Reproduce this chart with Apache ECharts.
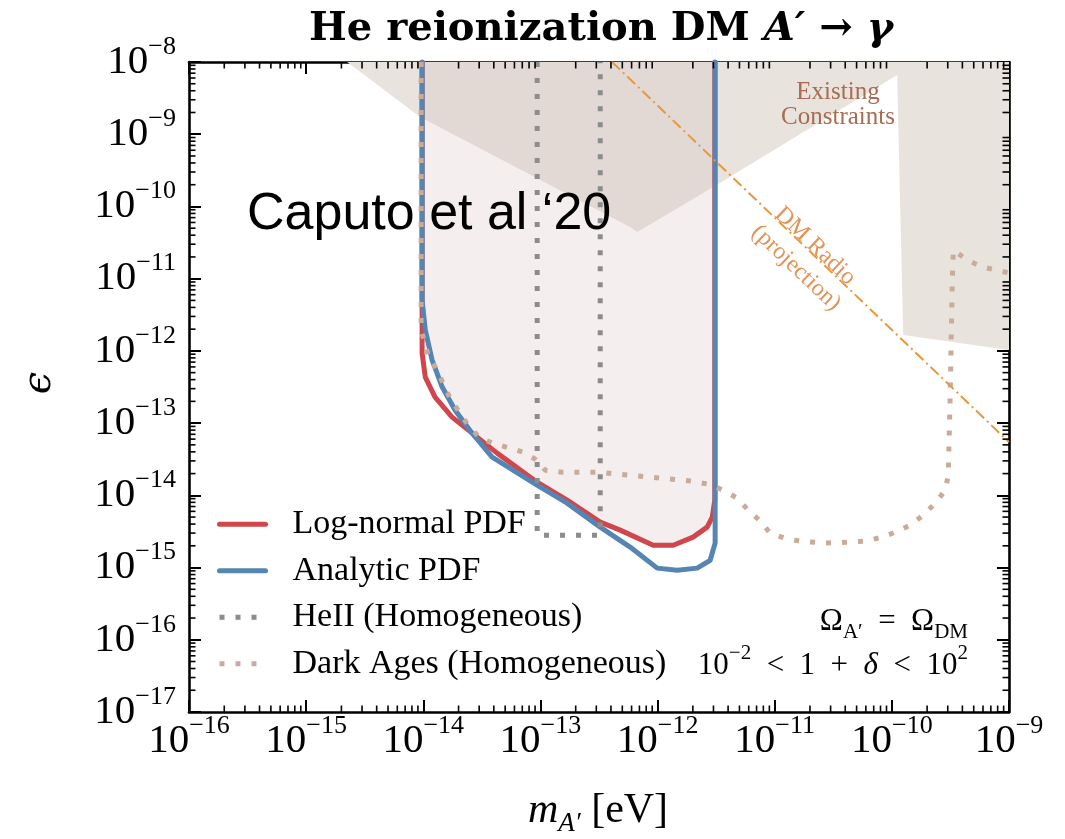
<!DOCTYPE html>
<html><head><meta charset="utf-8">
<script src="https://cdn.jsdelivr.net/npm/echarts@6/dist/echarts.min.js"></script>
<style>html,body{margin:0;padding:0;background:#fff;overflow:hidden}#c{width:1065px;height:839px}</style>
</head><body><div id="c"></div>
<script>
// ---------- tick labels ----------
const xTickPowers = [-16,-15,-14,-13,-12,-11,-10,-9];
const xTickExponents = ['\u221216','\u221215','\u221214','\u221213','\u221212','\u221211','\u221210','\u22129'];
const yTickPowers = [-17,-16,-15,-14,-13,-12,-11,-10,-9,-8];
const yTickExponents = ['\u221217','\u221216','\u221215','\u221214','\u221213','\u221212','\u221211','\u221210','\u22129','\u22128'];
const minorFactors = [2,3,4,5,6,7,8,9];

// ---------- data: [m_A' (eV), epsilon] ----------
const logNormal = [
  [9.77e-15,1e-8],[9.77e-15,9.33e-13],[1.04e-14,4.34e-13],[1.26e-14,2.29e-13],[1.76e-14,1.21e-13],
  [2.61e-14,7.26e-14],[4.27e-14,3.84e-14],[9.37e-14,1.52e-14],[1.69e-13,8.59e-15],[3.24e-13,4.26e-15],
  [4.80e-13,3.30e-15],[9.17e-13,2.04e-15],[1.36e-12,2.04e-15],[2.01e-12,2.64e-15],[2.65e-12,3.63e-15],
  [2.93e-12,4.99e-15],[3.08e-12,8.59e-15],[3.08e-12,1e-8]
];
const analytic = [
  [9.77e-15,1e-8],[9.77e-15,5.06e-12],[1.04e-14,1.94e-12],[1.19e-14,7.46e-13],[1.45e-14,3.16e-13],
  [1.87e-14,1.51e-13],[2.61e-14,7.26e-14],[3.87e-14,3.38e-14],[9.37e-14,1.38e-14],[1.69e-13,7.80e-15],
  [3.24e-13,3.63e-15],[5.83e-13,1.92e-15],[9.93e-13,9.82e-16],[1.47e-12,9.20e-16],[2.18e-12,9.82e-16],
  [2.81e-12,1.26e-15],[3.10e-12,2.18e-15],[3.10e-12,1e-8]
];
const heII = [[9.38e-14,1e-8],[9.38e-14,2.81e-15],[3.24e-13,2.81e-15],[3.24e-13,1e-8]];
const darkAges = [
  [9.58e-15,1e-8],[9.58e-15,1.94e-12],[1.10e-14,8.75e-13],[1.31e-14,5.42e-13],[1.69e-14,2.22e-13],
  [2.41e-14,9.38e-14],[3.05e-14,6.19e-14],[3.95e-14,5.28e-14],[7.12e-14,3.96e-14],[9.01e-14,3.17e-14],
  [1.10e-13,2.23e-14],[1.53e-13,2.09e-14],[3.05e-13,2.09e-14],[5.50e-13,1.91e-14],[1.05e-12,1.73e-14],
  [1.97e-12,1.57e-14],[2.70e-12,1.43e-14],[3.63e-12,1.18e-14],[4.79e-12,9.14e-15],[5.94e-12,6.24e-15],
  [7.52e-12,4.40e-15],[9.16e-12,2.99e-15],[1.23e-11,2.55e-15],[1.65e-11,2.32e-15],[2.70e-11,2.18e-15],
  [4.25e-11,2.25e-15],[5.93e-11,2.32e-15],[8.28e-11,2.64e-15],[1.07e-10,3.09e-15],[1.44e-10,3.87e-15],
  [1.85e-10,5.32e-15],[2.35e-10,7.80e-15],[2.86e-10,1.18e-14],[3.03e-10,1.91e-14],[3.15e-10,2.61e-13],
  [3.28e-10,9.57e-12],[3.35e-10,2.49e-11],[4.40e-10,1.81e-11],[5.92e-10,1.45e-11],[1e-9,1.20e-11]
];
const dmRadio = [[4.09e-13,1e-8],[1e-9,5.46e-14]];
const existingConstraints = [
  [2.24e-15,1e-8],[9.39e-15,1.73e-9],[5.83e-13,5.19e-11],[6.70e-13,4.42e-11],[2.99e-12,1.86e-10],
  [1.11e-10,6.61e-9],[1.25e-10,1.66e-12],[1e-9,1.03e-12],[1e-9,1e-8]
];
// excluded region = inside both PDF curves
const excludedRegion = analytic.slice(0,7).concat(logNormal.slice(6));

// ---------- styles ----------
const SERIF = "'Liberation Serif', 'DejaVu Serif', serif";
const RED = '#d0464d', BLUE = '#5585b2', GRAY = '#8c8c8c', TAN = '#c9ab9b', ORANGE = '#e8973e';

function polygonRenderer(points, fill) {
  return function (params, api) {
    return { type: 'polygon', shape: { points: points.map(p => api.coord(p)) }, style: { fill: fill } };
  };
}
function minorTickRenderer(params, api) {
  const children = [];
  const yb = api.coord([1e-12, 1e-17])[1], yt = api.coord([1e-12, 1e-8])[1];
  const xl = api.coord([1e-16, 1e-12])[0], xr = api.coord([1e-9, 1e-12])[0];
  const L = 6.5, st = { stroke: '#000', lineWidth: 1.6 };
  xTickPowers.slice(0, -1).forEach(d => minorFactors.forEach(k => {
    const x = api.coord([k * Math.pow(10, d), 1e-12])[0];
    children.push({ type: 'line', shape: { x1: x, y1: yb, x2: x, y2: yb - L }, style: st });
    children.push({ type: 'line', shape: { x1: x, y1: yt, x2: x, y2: yt + L }, style: st });
  }));
  yTickPowers.slice(0, -1).forEach(d => minorFactors.forEach(k => {
    const y = api.coord([1e-12, k * Math.pow(10, d)])[1];
    children.push({ type: 'line', shape: { x1: xl, y1: y, x2: xl + L, y2: y }, style: st });
    children.push({ type: 'line', shape: { x1: xr, y1: y, x2: xr - L, y2: y }, style: st });
  }));
  return { type: 'group', children: children };
}

const supRich = {
  b: { fontFamily: SERIF, fontSize: 41, lineHeight: 56, color: '#000' },
  s: { fontFamily: SERIF, fontSize: 26, lineHeight: 26, verticalAlign: 'top', color: '#000' }
};
const axisLineStyle = { show: true, onZero: false, lineStyle: { color: '#000', width: 2.6 } };
const axisTickStyle = { show: true, inside: true, length: 12, lineStyle: { color: '#000', width: 2 } };

function tickLabel(v, powers, labels) {
  const i = powers.indexOf(Math.round(Math.log10(v)));
  return i < 0 ? '' : '{b|10}{s|' + labels[i] + '}';
}
function xAxisCfg(pos, showLabel) {
  return {
    type: 'log', logBase: 10, min: 1e-16, max: 1e-9, position: pos,
    splitLine: { show: false }, axisLine: axisLineStyle, axisTick: axisTickStyle,
    axisLabel: showLabel ? {
      show: true, margin: 1, showMinLabel: true, showMaxLabel: true, hideOverlap: false,
      formatter: v => tickLabel(v, xTickPowers, xTickExponents), rich: supRich
    } : { show: false }
  };
}
function yAxisCfg(pos, showLabel) {
  return {
    type: 'log', logBase: 10, min: 1e-17, max: 1e-8, position: pos,
    splitLine: { show: false }, axisLine: axisLineStyle, axisTick: axisTickStyle,
    axisLabel: showLabel ? {
      show: true, margin: 13, showMinLabel: true, showMaxLabel: true, hideOverlap: false,
      formatter: v => tickLabel(v, yTickPowers, yTickExponents), rich: supRich
    } : { show: false }
  };
}

function txt(o) { // graphic text helper
  const st = Object.assign({ fill: '#000', textFill: '#000' }, o.style);
  st.textAlign = st.align; st.textVerticalAlign = st.verticalAlign;
  return { type: 'text', x: o.x, y: o.y, rotation: o.rotation || 0, silent: true, z: 100, style: st };
}

const chart = echarts.init(document.getElementById('c'), null, { renderer: 'canvas' });
chart.setOption({
  animation: false,
  backgroundColor: '#fff',
  grid: { left: 189, right: 56, top: 62, bottom: 127, containLabel: false, outerBoundsMode: 'none' },
  xAxis: [xAxisCfg('bottom', true), xAxisCfg('top', false)],
  yAxis: [yAxisCfg('left', true), yAxisCfg('right', false)],
  legend: {
    data: ['Log-normal PDF', 'Analytic PDF', 'HeII (Homogeneous)', 'Dark Ages (Homogeneous)'],
    orient: 'vertical', left: 217, top: 501, padding: 0, itemWidth: 46, itemHeight: 14, itemGap: 0,
    selectedMode: false,
    itemStyle: { opacity: 0 },
    lineStyle: { width: 5 },
    textStyle: { fontFamily: SERIF, fontSize: 34, lineHeight: 46.5, color: '#000', padding: [0, 0, 0, 22] }
  },
  series: [
    { type: 'custom', renderItem: polygonRenderer(existingConstraints, '#e8e4dd'), data: [[1e-12, 1e-12]], silent: true, z: 1 },
    { type: 'custom', renderItem: polygonRenderer(excludedRegion, 'rgba(215,185,185,0.24)'), data: [[1e-12, 1e-12]], silent: true, z: 1 },
    { name: 'Log-normal PDF', type: 'line', data: logNormal, symbol: 'none', z: 3,
      lineStyle: { color: RED, width: 5, join: 'round', cap: 'round' }, itemStyle: { color: RED } },
    { name: 'Analytic PDF', type: 'line', data: analytic, symbol: 'none', z: 4,
      lineStyle: { color: BLUE, width: 5, join: 'round', cap: 'round' }, itemStyle: { color: BLUE } },
    { name: 'HeII (Homogeneous)', type: 'line', data: heII, symbol: 'none', z: 5,
      lineStyle: { color: GRAY, width: 5, type: [5, 11], cap: 'butt' }, itemStyle: { color: GRAY } },
    { name: 'Dark Ages (Homogeneous)', type: 'line', data: darkAges, symbol: 'none', z: 5,
      lineStyle: { color: TAN, width: 5, type: [5, 11], cap: 'butt' }, itemStyle: { color: TAN } },
    { name: 'DM Radio (projection)', type: 'line', data: dmRadio, symbol: 'none', z: 6,
      lineStyle: { color: ORANGE, width: 2, type: [11, 4, 2, 4] }, itemStyle: { color: ORANGE } },
    { type: 'custom', renderItem: minorTickRenderer, data: [[1e-12, 1e-12]], silent: true, z: 10 }
  ],
  graphic: { elements: [
    txt({ x: 601, y: 30, style: {
      text: '{b|He reionization DM }{bi|A\u2032}{b| \u2192 }{bi|\u03b3}', align: 'center', verticalAlign: 'middle',
      rich: {
        b: { fontFamily: "'DejaVu Serif', serif", fontWeight: 'bold', fontSize: 40, fill: '#000' },
        bi: { fontFamily: "'DejaVu Serif', serif", fontWeight: 'bold', fontStyle: 'italic', fontSize: 40, fill: '#000' }
      } } }),
    txt({ x: 598, y: 790, style: {
      text: '{i|m}{sub|A\u2032}{r| [eV]}', align: 'center', verticalAlign: 'top',
      rich: {
        i: { fontFamily: SERIF, fontStyle: 'italic', fontSize: 42, lineHeight: 47, verticalAlign: 'top', fill: '#000' },
        sub: { fontFamily: SERIF, fontStyle: 'italic', fontSize: 27, verticalAlign: 'bottom', fill: '#000' },
        r: { fontFamily: SERIF, fontSize: 42, lineHeight: 47, verticalAlign: 'top', fill: '#000' }
      } } }),
    txt({ x: 40, y: 383, rotation: Math.PI / 2, style: {
      text: '\u03f5', align: 'center', verticalAlign: 'middle',
      fontFamily: "'DejaVu Serif', serif", fontStyle: 'italic', fontSize: 40 } }),
    txt({ x: 247, y: 215, style: {
      text: 'Caputo et al \u201820', align: 'left', verticalAlign: 'middle',
      fontFamily: "'Liberation Sans', Arial, sans-serif", fontSize: 52 } }),
    txt({ x: 838, y: 105, style: {
      text: 'Existing\nConstraints', align: 'center', verticalAlign: 'middle', lineHeight: 25,
      fontFamily: SERIF, fontSize: 25, fill: '#a96b51', textFill: '#a96b51' } }),
    txt({ x: 815, y: 246, rotation: -0.76, style: {
      text: 'DM Radio', align: 'center', verticalAlign: 'middle',
      fontFamily: SERIF, fontSize: 24, fill: '#e39358', textFill: '#e39358' } }),
    txt({ x: 796, y: 268, rotation: -0.76, style: {
      text: '(projection)', align: 'center', verticalAlign: 'middle',
      fontFamily: SERIF, fontSize: 24, fill: '#e39358', textFill: '#e39358' } }),
    txt({ x: 968, y: 606, style: {
      text: '{t|\u03a9}{sub|A\u2032}{t|\u2002=\u2002\u03a9}{sub|DM}', align: 'right', verticalAlign: 'top',
      rich: {
        t: { fontFamily: SERIF, fontSize: 31, lineHeight: 37, verticalAlign: 'top', fill: '#000' },
        sub: { fontFamily: SERIF, fontSize: 21, verticalAlign: 'bottom', fill: '#000' }
      } } }),
    txt({ x: 968, y: 643, style: {
      text: '{t|10}{s|\u22122}{t|\u2002<\u20021\u2002+\u2002}{ti|\u03b4}{t|\u2002<\u200210}{s|2}', align: 'right', verticalAlign: 'top',
      rich: {
        t: { fontFamily: SERIF, fontSize: 31, lineHeight: 38, verticalAlign: 'bottom', fill: '#000' },
        ti: { fontFamily: SERIF, fontStyle: 'italic', fontSize: 31, lineHeight: 38, verticalAlign: 'bottom', fill: '#000' },
        s: { fontFamily: SERIF, fontSize: 21, lineHeight: 21, verticalAlign: 'top', fill: '#000' }
      } } })
  ] }
});
</script></body></html>
